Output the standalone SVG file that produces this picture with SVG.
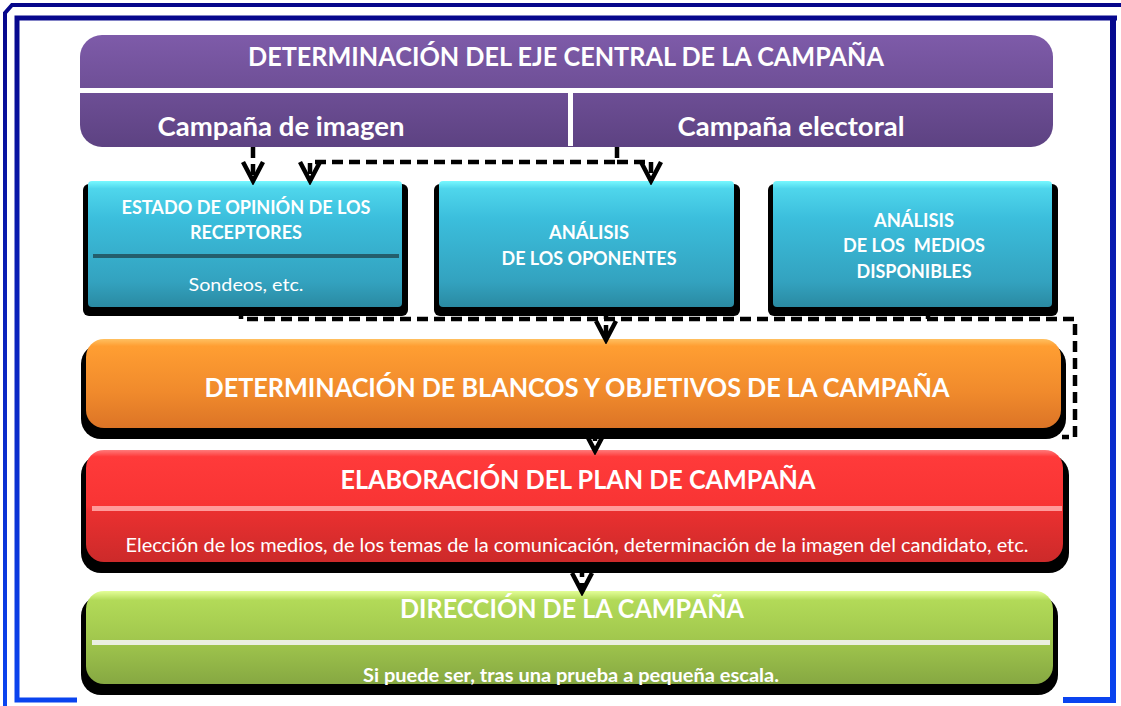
<svg xmlns="http://www.w3.org/2000/svg" width="1121" height="706" viewBox="0 0 1121 706">
<style>
text{font-family:Lato,"Open Sans","Liberation Sans",sans-serif;fill:#ffffff;white-space:pre;}
.b{font-weight:bold;}
.conn{fill:none;stroke:#000;stroke-width:4.5;stroke-dasharray:11 6;}
.frame{fill:none;stroke:url(#gFrame);}
.shadow{fill:#000;}
</style>
<defs>
<linearGradient id="gFrame" gradientUnits="userSpaceOnUse" x1="0" y1="0" x2="0" y2="706">
<stop offset="0" stop-color="#06068a"/><stop offset="0.5" stop-color="#0a24c0"/><stop offset="1" stop-color="#0a44f0"/>
</linearGradient>
<linearGradient id="gPurple" x1="0" y1="0" x2="0" y2="1">
<stop offset="0" stop-color="#7e5ba9"/><stop offset="1" stop-color="#5d4282"/>
</linearGradient>
<linearGradient id="gTeal" x1="0" y1="0" x2="0" y2="1">
<stop offset="0" stop-color="#78f8ff"/><stop offset="0.06" stop-color="#4fd6ec"/><stop offset="0.3" stop-color="#3bbedc"/><stop offset="0.8" stop-color="#33a2bf"/><stop offset="1" stop-color="#2a8aa2"/>
</linearGradient>
<linearGradient id="gOrange" x1="0" y1="0" x2="0" y2="1">
<stop offset="0" stop-color="#ffc060"/><stop offset="0.08" stop-color="#ff9e32"/><stop offset="0.6" stop-color="#f08a2c"/><stop offset="1" stop-color="#dc7426"/>
</linearGradient>
<linearGradient id="gRed" x1="0" y1="0" x2="0" y2="1">
<stop offset="0" stop-color="#ff7a7a"/><stop offset="0.06" stop-color="#ff3a3a"/><stop offset="0.5" stop-color="#f83434"/><stop offset="0.55" stop-color="#ea3030"/><stop offset="1" stop-color="#cc2a2a"/>
</linearGradient>
<linearGradient id="gGreen" x1="0" y1="0" x2="0" y2="1">
<stop offset="0" stop-color="#e4ff98"/><stop offset="0.1" stop-color="#b2da58"/><stop offset="0.5" stop-color="#a2c84e"/><stop offset="1" stop-color="#86a842"/>
</linearGradient>
<marker id="arr" markerUnits="userSpaceOnUse" viewBox="-26 -16 30 32" refX="0" refY="0" markerWidth="30" markerHeight="32" orient="auto">
<path d="M-19,-10 L0,0 L-19,10" fill="none" stroke="#000" stroke-width="4.5" stroke-dasharray="none" stroke-linejoin="miter"/>
</marker>
</defs>
<rect x="0" y="0" width="1121" height="706" fill="#ffffff"/>

<g id="frame">
<path class="frame" stroke-width="4" d="M5,706 V13 L12,5 H1121"/>
<path class="frame" stroke-width="5" d="M77,700 H17 V18 H1117"/>
<path class="frame" stroke-width="6" d="M1113,18 V700 H1063"/>
</g>

<g id="node-eje">
<rect x="80" y="35" width="973" height="112" rx="22" fill="url(#gPurple)"/>
<rect x="80" y="88" width="973" height="5" fill="#ffffff"/>
<rect x="568" y="93" width="5" height="53" fill="#ffffff"/>
<text class="b" x="566" y="66" font-size="26" text-anchor="middle" textLength="636" lengthAdjust="spacingAndGlyphs">DETERMINACIÓN DEL EJE CENTRAL DE LA CAMPAÑA</text>
<text class="b" x="281" y="136" font-size="26" text-anchor="middle" textLength="247" lengthAdjust="spacingAndGlyphs">Campaña de imagen</text>
<text class="b" x="791" y="136" font-size="26" text-anchor="middle" textLength="227" lengthAdjust="spacingAndGlyphs">Campaña electoral</text>
</g>

<g id="node-opinion">
<rect class="shadow" x="83" y="184" width="325" height="132" rx="6"/>
<rect x="88" y="181" width="314" height="126" rx="4" fill="url(#gTeal)"/>
<rect x="93" y="254" width="306" height="4" fill="#245e6c"/>
<text class="b" x="246" y="214" font-size="18" text-anchor="middle" textLength="249" lengthAdjust="spacingAndGlyphs">ESTADO DE OPINIÓN DE LOS</text>
<text class="b" x="246" y="239" font-size="18" text-anchor="middle" textLength="112" lengthAdjust="spacingAndGlyphs">RECEPTORES</text>
<text x="246" y="291" font-size="18" text-anchor="middle" textLength="115" lengthAdjust="spacingAndGlyphs">Sondeos, etc.</text>
</g>

<g id="node-oponentes">
<rect class="shadow" x="434" y="184" width="306" height="132" rx="6"/>
<rect x="439" y="181" width="295" height="126" rx="4" fill="url(#gTeal)"/>
<text class="b" x="589" y="239" font-size="18" text-anchor="middle" textLength="80" lengthAdjust="spacingAndGlyphs">ANÁLISIS</text>
<text class="b" x="589" y="265" font-size="18" text-anchor="middle" textLength="175" lengthAdjust="spacingAndGlyphs">DE LOS OPONENTES</text>
</g>

<g id="node-medios">
<rect class="shadow" x="768" y="184" width="290" height="132" rx="6"/>
<rect x="773" y="181" width="279" height="126" rx="4" fill="url(#gTeal)"/>
<text class="b" x="914" y="227" font-size="18" text-anchor="middle" textLength="80" lengthAdjust="spacingAndGlyphs">ANÁLISIS</text>
<text class="b" x="914" y="252" font-size="18" text-anchor="middle" textLength="142" lengthAdjust="spacingAndGlyphs" xml:space="preserve">DE LOS  MEDIOS</text>
<text class="b" x="914" y="278" font-size="18" text-anchor="middle" textLength="115" lengthAdjust="spacingAndGlyphs">DISPONIBLES</text>
</g>

<g id="node-blancos">
<rect class="shadow" x="81" y="344" width="985" height="95" rx="20"/>
<rect x="86" y="339" width="975" height="89" rx="18" fill="url(#gOrange)"/>
<text class="b" x="577" y="397" font-size="26" text-anchor="middle" textLength="745" lengthAdjust="spacingAndGlyphs">DETERMINACIÓN DE BLANCOS Y OBJETIVOS DE LA CAMPAÑA</text>
</g>

<g id="node-plan">
<rect class="shadow" x="81" y="455" width="988" height="118" rx="20"/>
<rect x="86" y="450" width="977" height="112" rx="18" fill="url(#gRed)"/>
<rect x="92" y="506" width="970" height="5" fill="#ff9a9a"/>
<text class="b" x="578" y="489" font-size="26" text-anchor="middle" textLength="475" lengthAdjust="spacingAndGlyphs">ELABORACIÓN DEL PLAN DE CAMPAÑA</text>
<text x="577" y="552" font-size="18.5" text-anchor="middle" textLength="903" lengthAdjust="spacingAndGlyphs">Elección de los medios, de los temas de la comunicación, determinación de la imagen del candidato, etc.</text>
</g>

<g id="node-direccion">
<rect class="shadow" x="81" y="596" width="977" height="99" rx="20"/>
<rect x="86" y="591" width="967" height="93" rx="18" fill="url(#gGreen)"/>
<rect x="92" y="640" width="958" height="5" fill="#ebefe2"/>
<text class="b" x="572" y="618" font-size="26" text-anchor="middle" textLength="344" lengthAdjust="spacingAndGlyphs">DIRECCIÓN DE LA CAMPAÑA</text>
<text class="b" x="571" y="682" font-size="18" text-anchor="middle" textLength="416" lengthAdjust="spacingAndGlyphs">Si puede ser, tras una prueba a pequeña escala.</text>
</g>

<g id="connectors">
<path class="conn" d="M253,147 V181" marker-end="url(#arr)"/>
<path class="conn" d="M617,147 V162 H310 V181" marker-end="url(#arr)"/>
<path class="conn" d="M617,162 H651 V181" marker-end="url(#arr)"/>
<path class="conn" d="M241,308 V319 H1075 V437 H1062"/>
<path class="conn" d="M928,308 V319"/>
<path class="conn" d="M606,308 V340" marker-end="url(#arr)"/>
<path class="conn" d="M595,430 V451" marker-end="url(#arr)"/>
<path class="conn" d="M582,566 V592" marker-end="url(#arr)"/>
</g>
</svg>
